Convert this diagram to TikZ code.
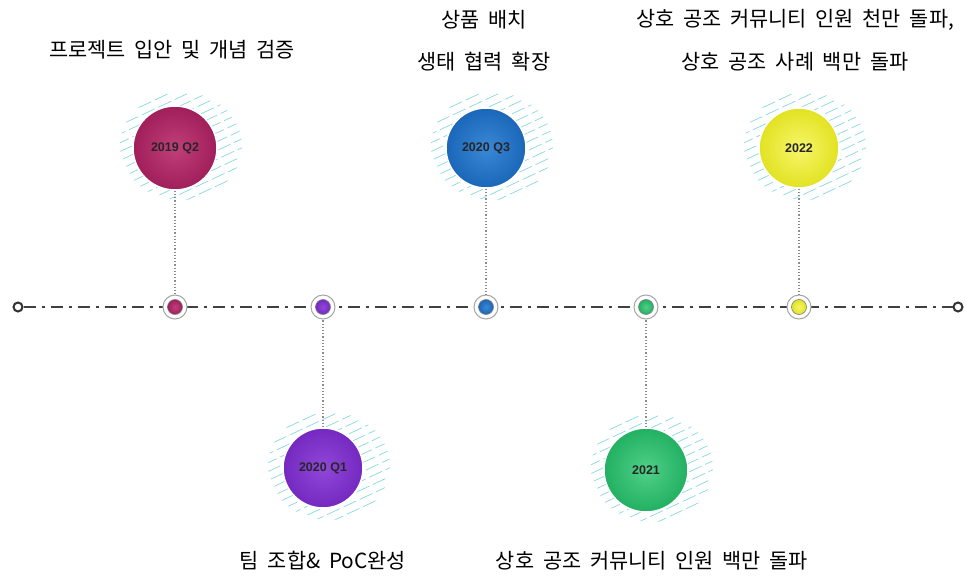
\documentclass[tikz,border=0pt]{standalone}
\usepackage{fontspec}
\setmainfont{Liberation Sans}
\newfontfamily\kr[WordSpace=1.9]{Noto Sans CJK KR}
\definecolor{cA}{HTML}{A01E5A}
\definecolor{cAl}{HTML}{C0407A}
\definecolor{cB}{HTML}{7428C0}
\definecolor{cBl}{HTML}{9048D8}
\definecolor{cC}{HTML}{1A66B8}
\definecolor{cCl}{HTML}{3A88D8}
\definecolor{cD}{HTML}{22B062}
\definecolor{cDl}{HTML}{50D088}
\definecolor{cE}{HTML}{E2E222}
\definecolor{cEl}{HTML}{F6F66A}
\definecolor{hatchc}{HTML}{86D8E2}
\begin{document}
\begin{tikzpicture}[x=1pt,y=-1pt,
  bigc/.style={circle, minimum size=84pt, inner sep=0pt, draw=white, line width=1.5pt, font=\bfseries\fontsize{12.5}{14}\selectfont, text=black!85},
  ring/.style={circle, minimum size=24pt, inner sep=0pt, draw=black!35, line width=1pt, fill=white},
  dotc/.style={circle, minimum size=15pt, inner sep=0pt, draw=black!50, line width=0.6pt},
  hatch/.style={draw=hatchc, line width=0.7pt, dash pattern=on 14pt off 4pt},
  conn/.style={draw=black!45, line width=1.2pt, dotted},
  axis/.style={draw=black!75, line width=2.4pt, dash pattern=on 12pt off 6pt on 3pt off 6pt},
  endc/.style={circle, minimum size=9pt, inner sep=0pt, draw=black!80, line width=2pt, fill=white},
  lbl/.style={font=\kr\fontsize{20.8}{24}\selectfont, text=black}]
\useasboundingbox (0,0) rectangle (966,577);

% hatching
\foreach \cx/\cy in {175/148, 323/468, 486/148, 646/470, 799/148}{
  \begin{scope}
    \clip (\cx+6,\cy-2) ellipse [x radius=61, y radius=54];
    \begin{scope}[shift={(\cx,\cy)}, rotate=25]
      \foreach \yy in {-60,-52,...,60}{
        \draw[hatch] (-70,\yy) -- (70,\yy);
      }
    \end{scope}
  \end{scope}
}

% big circles
\node[bigc, inner color=cAl, outer color=cA] (b1) at (175,148) {2019 Q2};
\node[bigc, inner color=cBl, outer color=cB, minimum size=80pt] (b2) at (323,468) {2020 Q1};
\node[bigc, inner color=cCl, outer color=cC, minimum size=80pt] (b3) at (486,148) {2020 Q3};
\node[bigc, inner color=cDl, outer color=cD] (b4) at (646,470) {2021};
\node[bigc, inner color=cEl, outer color=cE, minimum size=80pt] (b5) at (799,148) {2022};

% axis
\node[endc] (eL) at (18,307) {};
\node[endc] (eR) at (958,307) {};
\draw[axis] (eL) -- (eR);

% small markers
\node[ring] (s1) at (175,307) {};
\node[ring] (s2) at (323,307) {};
\node[ring] (s3) at (486,307) {};
\node[ring] (s4) at (646,307) {};
\node[ring] (s5) at (799,307) {};
\node[dotc, inner color=cAl, outer color=cA] (d1) at (s1) {};
\node[dotc, inner color=cBl, outer color=cB] (d2) at (s2) {};
\node[dotc, inner color=cCl, outer color=cC] (d3) at (s3) {};
\node[dotc, inner color=cDl, outer color=cD] (d4) at (s4) {};
\node[dotc, inner color=cEl, outer color=cE] (d5) at (s5) {};

% connectors
\draw[conn] (b1) -- (s1);
\draw[conn] (b2) -- (s2);
\draw[conn] (b3) -- (s3);
\draw[conn] (b4) -- (s4);
\draw[conn] (b5) -- (s5);

% labels
\node[lbl] (t1) at (172,50) {프로젝트 입안 및 개념 검증};
\node[lbl] (t3a) at (484,20) {상품 배치};
\node[lbl] (t3b) at (484,62) {생태 협력 확장};
\node[lbl] (t5a) at (795,20) {상호 공조 커뮤니티 인원 천만 돌파,};
\node[lbl] (t5b) at (795,62) {상호 공조 사례 백만 돌파};
\node[lbl] (t2) at (323,561) {팀 조합\& PoC완성};
\node[lbl] (t4) at (652,561) {상호 공조 커뮤니티 인원 백만 돌파};
\end{tikzpicture}
\end{document}
